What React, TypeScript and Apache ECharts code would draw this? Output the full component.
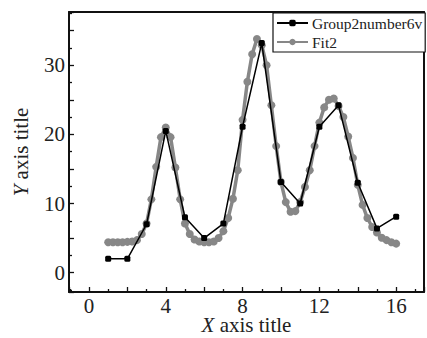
import React, { useEffect, useRef } from "react";
import * as echarts from "echarts";

const groupName = "Group2number6v";
const fitName = "Fit2";

const groupX = [1, 2, 3, 4, 5, 6, 7, 8, 9, 10, 11, 12, 13, 14, 15, 16];
const groupY = [2.0, 2.0, 7.0, 20.5, 8.0, 5.0, 7.1, 21.1, 33.2, 13.1, 10.0, 21.1, 24.2, 13.0, 6.4, 8.1];

const fitX = [
  1, 1.25, 1.5, 1.75, 2, 2.25, 2.5, 2.75, 3, 3.25, 3.5, 3.75, 4, 4.25, 4.5, 4.75,
  5, 5.25, 5.5, 5.75, 6, 6.25, 6.5, 6.75, 7, 7.25, 7.5, 7.75, 8, 8.25, 8.5, 8.75,
  9, 9.25, 9.5, 9.75, 10, 10.25, 10.5, 10.75, 11, 11.25, 11.5, 11.75, 12, 12.25, 12.5, 12.75,
  13, 13.25, 13.5, 13.75, 14, 14.25, 14.5, 14.75, 15, 15.25, 15.5, 15.75, 16,
];
const fitY = [
  4.4, 4.4, 4.4, 4.4, 4.45, 4.5, 4.7, 5.6, 7.1, 10.6, 15.3, 19.6, 21.0, 19.6, 15.2, 10.6,
  7.1, 5.6, 4.8, 4.5, 4.4, 4.4, 4.5, 5.0, 6.0, 7.9, 10.7, 14.8, 22.1, 27.6, 31.6, 33.8,
  32.9, 30.0, 24.2, 18.3, 13.1, 10.2, 8.8, 8.9, 10.2, 12.4, 14.8, 18.3, 21.7, 23.9, 25.0, 25.2,
  24.1, 22.5, 19.7, 16.6, 12.7, 9.8, 7.9, 6.6, 5.8, 5.05, 4.7, 4.4, 4.2,
];

const xMin = -1.04;
const xMax = 17.45;
const yMin = -2.8;
const yMax = 37.7;

const FONT = "Liberation Serif";

export default function App() {
  const ref = useRef<HTMLDivElement>(null);
  useEffect(() => {
    if (!ref.current) return;
    const chart = echarts.init(ref.current, null, { renderer: "svg" });
    const axisLineStyle = { color: "#111", width: 2 };
    chart.setOption({
      animation: false,
      backgroundColor: "#fff",
      textStyle: { fontFamily: FONT },
      grid: { left: 69, top: 12, right: 3, bottom: 46, containLabel: false, outerBoundsMode: "none" },
      legend: {
        orient: "vertical",
        left: 273,
        top: 13,
        padding: [2, 3, 2, 3],
        itemGap: 3,
        itemWidth: 31,
        itemHeight: 8,
        borderColor: "#111",
        borderWidth: 1.2,
        backgroundColor: "#fff",
        data: [groupName, fitName],
        textStyle: { fontFamily: FONT, fontSize: 15.5, color: "#222", padding: [0, 0, 0, -1] },
      },
      xAxis: [
        {
          type: "value",
          min: xMin,
          max: xMax,
          minInterval: 2,
          maxInterval: 2,
          splitLine: { show: false },
          axisLine: { show: true, onZero: false, lineStyle: axisLineStyle },
          axisTick: { show: true, inside: true, length: 5, lineStyle: { color: "#111", width: 1.3 } },
          minorTick: { show: true, splitNumber: 2, length: 3, lineStyle: { color: "#111", width: 1.3 } },
          axisLabel: {
            margin: 5,
            fontFamily: FONT,
            fontSize: 21,
            lineHeight: 18,
            color: "#222",
            formatter: (v: number) => (Math.abs(v % 4) < 1e-9 ? String(v) : ""),
          },
          name: "{i|X} axis title",
          nameLocation: "middle",
          nameGap: 23,
          nameMoveOverlap: false,
          nameTextStyle: {
            fontFamily: FONT,
            fontSize: 21,
            lineHeight: 20,
            color: "#222",
            rich: { i: { fontFamily: FONT, fontSize: 21, lineHeight: 20, fontStyle: "italic", color: "#222" } },
          },
        },
        {
          type: "value",
          position: "top",
          min: xMin,
          max: xMax,
          axisLine: { show: true, onZero: false, lineStyle: axisLineStyle },
          axisTick: { show: false },
          axisLabel: { show: false },
          splitLine: { show: false },
        },
      ],
      yAxis: [
        {
          type: "value",
          min: yMin,
          max: yMax,
          minInterval: 5,
          maxInterval: 5,
          splitLine: { show: false },
          axisLine: { show: true, onZero: false, lineStyle: axisLineStyle },
          axisTick: { show: true, inside: true, length: 5, lineStyle: { color: "#111", width: 1.3 } },
          minorTick: { show: true, splitNumber: 2, length: 3, lineStyle: { color: "#111", width: 1.3 } },
          axisLabel: {
            margin: 4,
            fontFamily: FONT,
            fontSize: 21,
            color: "#222",
            formatter: (v: number) => (Math.abs(v % 10) < 1e-9 ? String(v) : ""),
          },
          name: "{i|Y} axis title",
          nameLocation: "middle",
          nameGap: 38,
          nameMoveOverlap: false,
          nameTextStyle: {
            fontFamily: FONT,
            fontSize: 21,
            color: "#222",
            rich: { i: { fontFamily: FONT, fontSize: 21, fontStyle: "italic", color: "#222" } },
          },
        },
        {
          type: "value",
          position: "right",
          min: yMin,
          max: yMax,
          axisLine: { show: true, onZero: false, lineStyle: axisLineStyle },
          axisTick: { show: false },
          axisLabel: { show: false },
          splitLine: { show: false },
        },
      ],
      series: [
        {
          name: fitName,
          type: "line",
          data: fitX.map((x, i) => [x, fitY[i]]),
          symbol: "circle",
          symbolSize: 8,
          showAllSymbol: true,
          itemStyle: { color: "#878787" },
          lineStyle: { color: "#878787", width: 3.5 },
          z: 2,
        },
        {
          name: groupName,
          type: "line",
          data: groupX.map((x, i) => [x, groupY[i]]),
          symbol: "roundRect",
          symbolSize: 6,
          showAllSymbol: true,
          itemStyle: { color: "#000" },
          lineStyle: { color: "#000", width: 1.5 },
          z: 3,
        },
      ],
    });
    return () => chart.dispose();
  }, []);
  return <div ref={ref} style={{ width: 427, height: 338, position: "absolute", left: 0, top: 0 }} />;
}
